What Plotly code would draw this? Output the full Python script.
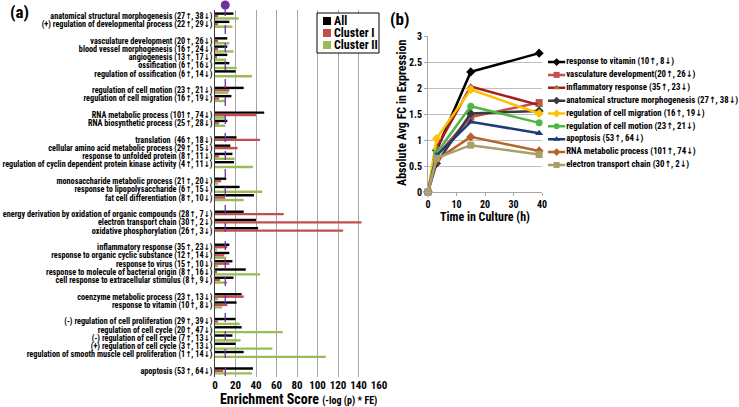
import plotly.graph_objects as go

# ---------------- Panel (a) data ----------------
GROUP_SIZES = [2, 5, 2, 2, 4, 3, 3, 5, 2, 5, 1]
CATEGORIES = [
    "anatomical structural morphogenesis (27↑, 38↓)",
    "(+) regulation of developmental process (22↑, 29↓)",
    "vasculature development (20↑, 26↓)",
    "blood vessel morphogenesis (16↑, 24↓)",
    "angiogenesis (13↑, 17↓)",
    "ossification (6↑, 16↓)",
    "regulation of ossification (6↑, 14↓)",
    "regulation of cell motion (23↑, 21↓)",
    "regulation of cell migration (16↑, 19↓)",
    "RNA metabolic process (101↑, 74↓)",
    "RNA biosynthetic process (25↑, 28↓)",
    "translation  (46↑, 18↓)",
    "cellular amino acid metabolic process (29↑, 15↓)",
    "response to unfolded protein (8↑, 11↓)",
    "regulation of cyclin dependent protein kinase activity (4↑, 11↓)",
    "monosaccharide metabolic process (21↑, 20↓)",
    "response to lipopolysaccharide (6↑, 15↓)",
    "fat cell differentiation (8↑, 10↓)",
    "energy derivation by oxidation of organic compounds (28↑, 7↓)",
    "electron transport chain (30↑, 2↓)",
    "oxidative phosphorylation (26↑, 3↓)",
    "inflammatory response (35↑, 23↓)",
    "response to organic cyclic substance (12↑, 14↓)",
    "response to virus (15↑, 10↓)",
    "response to molecule of bacterial origin (8↑, 16↓)",
    "cell response to extracellular stimulus (8↑, 9↓)",
    "coenzyme metabolic process (23↑, 13↓)",
    "response to vitamin (10↑, 8↓)",
    "(-) regulation of cell proliferation (29↑, 39↓)",
    "regulation of cell cycle (20↑, 47↓)",
    "(-) regulation of cell cycle (7↑, 13↓)",
    "(+) regulation of cell cycle (3↑, 13↓)",
    "regulation of smooth muscle cell proliferation (1↑, 14↓)",
    "apoptosis (53↑, 64↓)",
]
ALL = [18, 14, 12, 12, 12, 14, 20, 28, 16, 48, 12, 21, 15, 17, 18.5, 11, 24, 38,
       28, 40, 42, 14, 14, 17, 30, 18, 26, 21, 20, 26, 17, 20, 28, 37]
CLUSTER_I = [3, 3, 3, 3, 2, 0, 0, 14, 4, 40, 4, 44, 22, 4, 0, 6, 0, 10,
             67, 143, 125, 12, 9, 14, 2, 5, 28, 12, 3, 0, 0, 0, 0, 8]
CLUSTER_II = [23, 17, 14, 18, 11, 21, 36, 13, 10, 10, 10, 0, 0, 19, 37, 3, 46, 28,
              0, 0, 0, 2, 11, 3, 44, 12, 3, 7, 24, 66, 25, 56, 108, 36]
SERIES_A = ["All", "Cluster I", "Cluster II"]
COLORS_A = ["#000000", "#C0504D", "#9BBB59"]
THRESHOLD = 10
X_TICKS_A = [0, 20, 40, 60, 80, 100, 120, 140, 160]

# ---------------- Panel (b) data ----------------
TIME_H = [0, 3, 15, 39]
LINE_NAMES = [
    "response to vitamin (10↑, 8↓)",
    "vasculature development(20↑, 26↓)",
    "inflammatory response (35↑, 23↓)",
    "anatomical structure morphogenesis (27↑, 38↓)",
    "regulation of cell migration (16↑, 19↓)",
    "regulation of cell motion (23↑, 21↓)",
    "apoptosis (53↑, 64↓)",
    "RNA metabolic process (101↑, 74↓)",
    "electron transport chain (30↑, 2↓)",
]
VITAMIN = [0, 0.80, 2.31, 2.67]
VASCULATURE = [0, 0.70, 1.44, 1.72]
INFLAMMATORY = [0, 0.85, 2.03, 1.67]
ANATOMICAL = [0, 0.55, 1.51, 1.56]
CELL_MIGRATION = [0, 1.03, 1.97, 1.51]
CELL_MOTION = [0, 0.75, 1.65, 1.33]
APOPTOSIS = [0, 0.70, 1.35, 1.13]
RNA_METABOLIC = [0, 0.62, 1.06, 0.79]
ETC = [0, 0.65, 0.90, 0.72]
LINE_VALUES = [VITAMIN, VASCULATURE, INFLAMMATORY, ANATOMICAL, CELL_MIGRATION,
               CELL_MOTION, APOPTOSIS, RNA_METABOLIC, ETC]
LINE_COLORS = ["#000000", "#C0504D", "#A31F1F", "#3A3A3A", "#FFC000",
               "#4DB848", "#1F3A7A", "#B5652B", "#A8A06A"]
MARKER_COLORS = ["#000000", "#C0504D", "#A0703A", "#3A3A3A", "#FFC000",
                 "#4DB848", "#1F3A7A", "#B5652B", "#A8A06A"]
LINE_SYMBOLS = ["diamond", "square", "triangle-up", "diamond", "diamond",
                "circle", "triangle-up", "diamond", "square"]

FONT = "Liberation Sans Narrow, Arial Narrow, Roboto Condensed, DejaVu Sans Condensed, Liberation Sans, Arial"
W, H = 739, 407


def px_x(p):
    return p / W


def px_y(p):
    return 1 - p / H


# row positions with an empty row between groups
rows = []
r = 0
for size in GROUP_SIZES:
    for _ in range(size):
        rows.append(r)
        r += 1
    r += 1

fig = go.Figure()

for name, vals, col in zip(SERIES_A, [ALL, CLUSTER_I, CLUSTER_II], COLORS_A):
    fig.add_trace(go.Bar(x=vals, y=rows, orientation="h", name=name,
                         marker=dict(color=col, line=dict(width=0)),
                         xaxis="x", yaxis="y", showlegend=False))

# threshold line + dot
fig.add_shape(type="line", xref="x", yref="paper", x0=THRESHOLD, x1=THRESHOLD,
              y0=px_y(376), y1=px_y(6), line=dict(color="#7030A0", width=1.3, dash="dash"))
fig.add_shape(type="circle", xref="x", yref="paper", xsizemode="pixel", ysizemode="pixel",
              xanchor=THRESHOLD, yanchor=px_y(5), x0=-4.5, x1=4.5, y0=-4.5, y1=4.5,
              fillcolor="#7030A0", line=dict(color="#7030A0", width=0))

# legend (a) box (white, above gridlines) with annotation entries on top
fig.add_shape(type="rect", xref="paper", yref="paper", x0=px_x(317), x1=px_x(379),
              y0=px_y(53), y1=px_y(13), fillcolor="white", line=dict(color="black", width=1),
              layer="above")

annotations = []
for i, (name, col) in enumerate(zip(SERIES_A, COLORS_A)):
    yy = px_y(21 + 12 * i)
    annotations.append(dict(text=" ", x=px_x(323), y=yy, xref="paper", yref="paper",
                            xanchor="left", yanchor="middle", showarrow=False,
                            width=8, height=8, bgcolor=col, borderpad=0, borderwidth=0))
    annotations.append(dict(text="<b>" + name + "</b>", x=px_x(332), y=yy, xref="paper", yref="paper",
                            xanchor="left", yanchor="middle", showarrow=False,
                            font=dict(family=FONT, size=12, color="black")))

# panel (b) lines
for name, vals, col, mcol, sym in zip(LINE_NAMES, LINE_VALUES, LINE_COLORS, MARKER_COLORS, LINE_SYMBOLS):
    fig.add_trace(go.Scatter(x=TIME_H, y=vals, mode="lines+markers", name=name,
                             line=dict(color=col, width=2.5),
                             marker=dict(symbol=sym, size=7, color=mcol),
                             xaxis="x2", yaxis="y2", showlegend=False, cliponaxis=False))

# panel (b) custom legend
for i, (name, col, mcol, sym) in enumerate(zip(LINE_NAMES, LINE_COLORS, MARKER_COLORS, LINE_SYMBOLS)):
    fig.add_trace(go.Scatter(x=[0, 0.9], y=[i, i], mode="lines", line=dict(color=col, width=2.5),
                             xaxis="x3", yaxis="y3", showlegend=False, cliponaxis=False))
    fig.add_trace(go.Scatter(x=[0.45], y=[i], mode="markers", marker=dict(symbol=sym, size=6, color=mcol),
                             xaxis="x3", yaxis="y3", showlegend=False, cliponaxis=False))
    fig.add_trace(go.Scatter(x=[0.95], y=[i], mode="text", text=[name], textposition="middle right",
                             textfont=dict(family=FONT, size=8.8, color="black", weight="bold"),
                             xaxis="x3", yaxis="y3", showlegend=False, cliponaxis=False))

hidden = dict(visible=False, showgrid=False, zeroline=False, fixedrange=True, automargin=False)

annotations += [
    dict(text="<b>(a)</b>", x=px_x(8), y=px_y(12), xref="paper", yref="paper",
         xanchor="left", yanchor="middle", showarrow=False, font=dict(family=FONT, size=17)),
    dict(text="<b>(b)</b>", x=px_x(388), y=px_y(19), xref="paper", yref="paper",
         xanchor="left", yanchor="middle", showarrow=False, font=dict(family=FONT, size=17)),
    dict(text="<b>Enrichment Score</b> <b><span style='font-size:10px'>(-log (p) * FE)</span></b>",
         x=px_x(298), y=px_y(399), xref="paper", yref="paper",
         xanchor="center", yanchor="middle", showarrow=False, font=dict(family=FONT, size=14)),
    dict(text="<b>Absolute Avg FC in Expression</b>", textangle=-90,
         x=px_x(402), y=px_y(113), xref="paper", yref="paper",
         xanchor="center", yanchor="middle", showarrow=False, font=dict(family=FONT, size=12)),
]

fig.update_layout(
    width=W, height=H, margin=dict(l=0, r=0, t=0, b=0, autoexpand=False),
    paper_bgcolor="white", plot_bgcolor="white",
    font=dict(family=FONT, color="black"),
    barmode="group", bargap=0.12, bargroupgap=0,
    xaxis=dict(domain=[px_x(215), px_x(379)], range=[0, 160], tickvals=X_TICKS_A,
               showgrid=True, gridcolor="#A6A6A6", gridwidth=1, zeroline=False,
               showline=False, ticks="", automargin=False,
               tickfont=dict(family=FONT, size=11, weight="bold"), anchor="y"),
    yaxis=dict(domain=[px_y(377), px_y(10)], range=[43.73, -0.73], tickvals=rows,
               ticktext=CATEGORIES, showgrid=False, zeroline=False, automargin=False,
               showline=True, linecolor="#404040", linewidth=1, ticks="",
               tickfont=dict(family=FONT, size=8.2, weight="bold"), anchor="x"),
    xaxis2=dict(domain=[px_x(428), px_x(542)], range=[0, 40], tickvals=[0, 10, 20, 30, 40],
                showgrid=False, zeroline=False, showline=True, linecolor="#A6A6A6",
                ticks="outside", ticklen=3, tickcolor="#A6A6A6", automargin=False,
                tickfont=dict(family=FONT, size=10, weight="bold"), anchor="y2",
                title=dict(text="Time in Culture (h)", font=dict(family=FONT, size=12, weight="bold"),
                           standoff=2)),
    yaxis2=dict(domain=[px_y(192), px_y(36)], range=[0, 3], tickvals=[0, 0.5, 1, 1.5, 2, 2.5, 3],
                ticktext=["0", "0.5", "1", "1.5", "2", "2.5", "3"],
                showgrid=True, gridcolor="#BFBFBF", zeroline=False, showline=True, linecolor="#A6A6A6",
                ticks="outside", ticklen=3, tickcolor="#A6A6A6", automargin=False,
                tickfont=dict(family=FONT, size=10, weight="bold"), anchor="x2"),
    xaxis3=dict(domain=[px_x(548), px_x(739)], range=[0, 10], anchor="y3", **hidden),
    yaxis3=dict(domain=[px_y(171.4), px_y(55.6)], range=[8.5, -0.5], anchor="x3", **hidden),
    annotations=annotations,
)

fig.write_html("out.html", config={"displayModeBar": False},
               post_script="document.body.style.margin='0';document.body.style.padding='0';")
